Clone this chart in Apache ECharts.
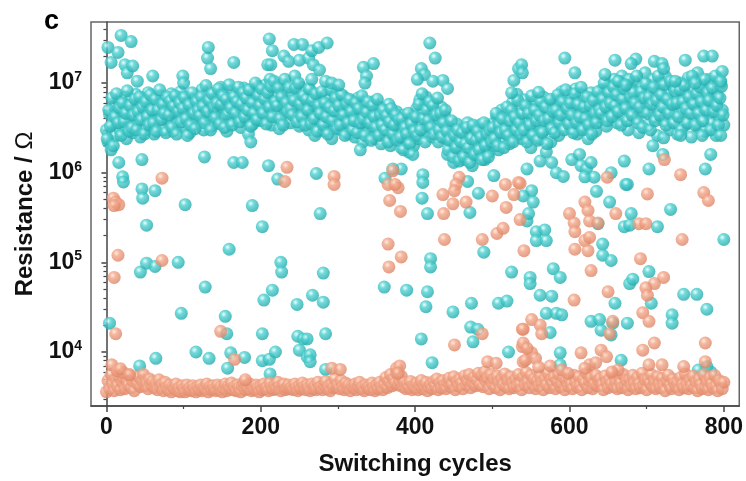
<!DOCTYPE html>
<html>
<head>
<meta charset="utf-8">
<script src="https://cdn.jsdelivr.net/npm/echarts@6/dist/echarts.min.js"></script>
<style>html,body{margin:0;padding:0;background:#fff}#chart{width:746px;height:481px}</style>
</head>
<body>
<div id="chart"></div>
<script>
// ====== data ======
var cycleStep = 2; // band arrays hold one value every 2 cycles
// high resistance state, main band, even cycles 0..800
var hrsBand = [
 3.0e6,2.2e6,4.5e6,1.8e6,3.5e6,5.5e6,2.6e6,4.0e6,6.2e6,2.9e6,
 4.8e6,3.2e6,7.0e6,2.4e6,5.0e6,3.8e6,6.5e6,2.8e6,4.2e6,7.5e6,
 3.5e6,5.2e6,2.5e6,6.8e6,4.0e6,3.0e6,5.8e6,7.8e6,3.6e6,4.6e6,
 6.0e6,2.7e6,4.4e6,5.5e6,3.3e6,7.2e6,4.9e6,3.0e6,6.4e6,4.1e6,
 5.6e6,3.8e6,7.6e6,2.9e6,4.7e6,6.1e6,3.4e6,5.0e6,8.0e6,4.3e6,
 3.2e6,5.9e6,4.5e6,7.0e6,2.8e6,5.3e6,3.9e6,6.6e6,4.8e6,3.5e6,
 6.2e6,4.1e6,8.5e6,3.0e6,5.6e6,7.3e6,4.4e6,6.0e6,3.3e6,5.1e6,
 7.8e6,4.6e6,6.4e6,3.6e6,9.0e6,5.4e6,4.0e6,7.0e6,2.9e6,6.0e6,
 4.8e6,8.2e6,3.8e6,5.7e6,7.4e6,4.3e6,6.8e6,3.2e6,5.2e6,8.8e6,
 4.0e6,6.5e6,2.7e6,5.0e6,7.9e6,3.5e6,6.1e6,4.4e6,9.2e6,5.5e6,
 3.8e6,7.0e6,5.0e6,9.5e6,4.2e6,6.3e6,1.1e7,3.4e6,5.8e6,8.0e6,
 4.5e6,7.2e6,3.1e6,6.0e6,9.8e6,5.2e6,4.0e6,8.4e6,6.6e6,3.6e6,
 7.5e6,5.4e6,1.2e7,4.3e6,6.8e6,3.3e6,9.0e6,5.0e6,7.8e6,4.1e6,
 6.2e6,3.0e6,8.2e6,4.7e6,5.6e6,2.6e6,7.0e6,3.8e6,6.0e6,4.4e6,
 5.2e6,2.9e6,7.4e6,3.6e6,6.5e6,4.8e6,2.4e6,5.8e6,3.3e6,7.8e6,
 4.2e6,6.0e6,3.0e6,5.0e6,7.0e6,3.7e6,4.6e6,2.7e6,6.4e6,3.9e6,
 5.4e6,2.5e6,4.4e6,6.8e6,3.2e6,4.9e6,2.2e6,5.7e6,3.6e6,4.1e6,
 2.8e6,5.0e6,3.3e6,6.2e6,2.4e6,4.5e6,3.0e6,5.4e6,2.1e6,3.8e6,
 4.6e6,2.6e6,3.5e6,5.8e6,2.0e6,4.0e6,3.1e6,2.4e6,4.8e6,2.8e6,
 3.6e6,1.9e6,2.9e6,4.4e6,2.2e6,3.3e6,1.7e6,2.6e6,3.9e6,2.0e6,
 3.0e6,5.2e6,2.4e6,6.5e6,3.6e6,4.6e6,2.8e6,7.0e6,3.3e6,5.6e6,
 4.0e6,2.5e6,6.0e6,3.4e6,4.8e6,2.2e6,3.8e6,5.4e6,2.9e6,4.3e6,
 2.4e6,1.6e6,3.2e6,1.9e6,2.7e6,1.3e6,2.1e6,3.5e6,1.5e6,2.5e6,
 1.8e6,2.9e6,1.4e6,2.3e6,3.6e6,1.7e6,2.6e6,1.2e6,2.0e6,3.1e6,
 1.6e6,2.4e6,3.4e6,1.9e6,2.8e6,1.4e6,2.2e6,3.3e6,1.7e6,2.6e6,
 2.0e6,3.6e6,2.5e6,4.2e6,1.8e6,3.0e6,5.0e6,2.3e6,3.8e6,2.7e6,
 4.5e6,2.1e6,3.4e6,6.0e6,2.8e6,4.0e6,7.5e6,3.2e6,5.4e6,2.4e6,
 4.4e6,6.5e6,2.6e6,3.6e6,5.2e6,1.9e6,4.0e6,2.9e6,6.2e6,3.3e6,
 5.0e6,2.4e6,4.2e6,7.0e6,3.0e6,1.7e6,4.8e6,3.6e6,2.2e6,5.8e6,
 3.4e6,6.6e6,4.5e6,2.6e6,5.4e6,8.0e6,3.8e6,6.0e6,4.2e6,7.2e6,
 5.0e6,3.1e6,6.8e6,4.0e6,8.6e6,2.7e6,5.6e6,3.6e6,7.4e6,4.6e6,
 3.2e6,6.2e6,2.4e6,4.8e6,7.8e6,3.8e6,5.4e6,2.9e6,6.6e6,4.2e6,
 5.8e6,8.4e6,4.0e6,6.8e6,3.3e6,9.6e6,5.2e6,7.5e6,4.4e6,1.1e7,
 6.2e6,3.6e6,8.0e6,5.0e6,1.2e7,4.2e6,7.0e6,9.4e6,3.0e6,6.0e6,
 8.8e6,5.4e6,1.05e7,4.0e6,7.2e6,2.8e6,6.4e6,9.0e6,4.8e6,1.3e7,
 5.6e6,3.4e6,8.2e6,6.6e6,1.1e7,4.2e6,7.6e6,2.6e6,5.0e6,9.8e6,
 6.8e6,3.8e6,1.2e7,5.2e6,8.0e6,3.0e6,6.2e6,9.2e6,4.4e6,7.0e6,
 2.7e6,5.8e6,1.0e7,4.6e6,7.8e6,3.4e6,6.4e6,1.15e7,5.0e6,2.5e6,
 8.6e6,4.0e6,6.0e6,1.3e7,3.2e6,7.4e6,5.4e6,9.6e6,2.9e6,6.8e6,
 4.6e6,1.1e7,3.6e6,8.0e6,5.8e6,2.6e6,7.2e6,4.2e6,1.0e7,5.0e6,
 3.4e6
];
// high resistance state, main band, odd cycles 1..799
var hrsBandOdd = [
 2.4e6,5.0e6,3.3e6,6.8e6,2.0e6,4.2e6,7.6e6,3.6e6,5.3e6,2.6e6,
 6.0e6,3.7e6,4.6e6,8.2e6,2.9e6,5.6e6,3.2e6,4.4e6,6.6e6,3.0e6,
 4.8e6,7.0e6,3.9e6,5.4e6,2.7e6,6.2e6,4.2e6,3.4e6,7.4e6,5.0e6,
 3.6e6,6.6e6,2.9e6,5.0e6,8.4e6,3.9e6,5.8e6,4.6e6,2.8e6,7.0e6,
 4.4e6,6.3e6,3.2e6,5.5e6,7.2e6,2.7e6,4.8e6,6.0e6,3.7e6,5.2e6,
 6.9e6,4.0e6,2.6e6,5.7e6,3.4e6,7.8e6,4.6e6,3.1e6,6.2e6,5.0e6,
 4.3e6,7.0e6,5.5e6,3.6e6,9.4e6,4.8e6,6.4e6,3.0e6,7.6e6,5.4e6,
 4.1e6,6.0e6,8.6e6,3.5e6,5.8e6,7.2e6,3.2e6,6.6e6,4.5e6,9.6e6,
 5.3e6,3.4e6,7.0e6,4.6e6,6.2e6,9.0e6,3.7e6,5.8e6,7.8e6,4.2e6,
 6.8e6,5.0e6,8.4e6,3.3e6,6.0e6,4.6e6,1.0e7,3.9e6,7.2e6,5.6e6,
 8.6e6,4.6e6,6.6e6,3.5e6,7.8e6,5.4e6,9.2e6,4.2e6,1.05e7,6.2e6,
 5.6e6,8.8e6,4.0e6,7.0e6,3.4e6,1.1e7,6.0e6,4.8e6,9.0e6,5.2e6,
 4.4e6,6.4e6,8.8e6,3.7e6,1.0e7,5.8e6,4.2e6,7.2e6,3.4e6,6.6e6,
 5.0e6,8.6e6,3.5e6,6.4e6,4.0e6,7.6e6,2.9e6,5.6e6,4.6e6,8.0e6,
 3.4e6,6.0e6,4.2e6,2.7e6,5.4e6,8.4e6,3.8e6,4.9e6,6.8e6,3.1e6,
 5.6e6,3.4e6,7.4e6,4.4e6,2.6e6,5.8e6,3.6e6,6.6e6,4.8e6,3.0e6,
 3.8e6,6.0e6,2.8e6,5.2e6,3.6e6,7.2e6,4.0e6,2.6e6,4.7e6,6.2e6,
 3.6e6,2.3e6,5.6e6,4.2e6,3.2e6,6.6e6,2.6e6,4.4e6,3.4e6,5.0e6,
 3.0e6,4.3e6,2.2e6,3.7e6,5.2e6,2.7e6,3.4e6,4.4e6,2.3e6,3.9e6,
 2.5e6,4.0e6,1.8e6,3.2e6,2.7e6,4.6e6,2.1e6,3.5e6,1.6e6,2.9e6,
 4.2e6,2.6e6,5.8e6,3.0e6,7.6e6,4.0e6,2.2e6,5.0e6,3.8e6,6.2e6,
 3.2e6,5.6e6,2.7e6,4.4e6,6.8e6,3.0e6,4.6e6,2.5e6,3.6e6,5.0e6,
 2.9e6,1.8e6,2.3e6,3.8e6,1.5e6,2.6e6,1.9e6,3.0e6,1.35e6,2.2e6,
 2.8e6,1.5e6,2.1e6,3.2e6,1.9e6,1.3e6,2.4e6,3.4e6,1.6e6,2.3e6,
 2.9e6,1.8e6,2.5e6,1.4e6,3.6e6,2.0e6,2.7e6,1.5e6,3.0e6,2.2e6,
 3.2e6,2.4e6,4.6e6,2.0e6,3.4e6,2.8e6,4.0e6,1.9e6,3.0e6,5.4e6,
 2.6e6,3.8e6,5.0e6,2.2e6,4.2e6,3.0e6,6.4e6,3.6e6,2.7e6,4.6e6,
 3.0e6,5.6e6,2.2e6,4.6e6,3.4e6,7.2e6,2.6e6,5.0e6,3.8e6,2.3e6,
 4.4e6,6.2e6,2.8e6,3.8e6,5.4e6,2.1e6,4.0e6,6.6e6,3.1e6,4.8e6,
 2.8e6,5.0e6,7.4e6,3.6e6,4.4e6,6.2e6,3.0e6,8.4e6,5.2e6,3.5e6,
 6.0e6,4.4e6,2.8e6,7.6e6,3.6e6,5.8e6,4.2e6,9.0e6,3.0e6,5.4e6,
 4.0e6,7.0e6,3.4e6,5.6e6,2.7e6,6.4e6,4.6e6,3.6e6,8.0e6,5.0e6,
 4.6e6,6.6e6,1.0e7,5.4e6,3.8e6,7.8e6,6.0e6,4.2e6,9.0e6,5.6e6,
 7.4e6,4.8e6,1.05e7,3.4e6,6.6e6,8.6e6,5.2e6,3.8e6,1.1e7,7.0e6,
 4.4e6,7.8e6,6.0e6,1.2e7,3.6e6,5.4e6,8.0e6,3.2e6,6.8e6,9.8e6,
 4.6e6,7.0e6,3.0e6,5.8e6,9.0e6,3.8e6,6.4e6,1.2e7,4.4e6,7.4e6,
 5.4e6,9.6e6,3.4e6,6.6e6,4.6e6,1.05e7,5.8e6,3.6e6,8.2e6,6.0e6,
 4.2e6,8.4e6,3.0e6,6.2e6,9.4e6,5.2e6,3.6e6,7.0e6,4.6e6,1.2e7,
 5.8e6,3.4e6,7.6e6,4.6e6,9.0e6,6.2e6,3.8e6,1.1e7,5.0e6,7.8e6,
 6.4e6,3.0e6,8.8e6,4.8e6,1.2e7,5.6e6,3.4e6,6.8e6,9.2e6,4.4e6
];
// high resistance state, points above the band [cycle, ohm]
var hrsHigh = [
 [2,2.5e7],[6,1.7e7],[15,2.2e7],[19,3.4e7],[24,1.6e7],[27,1.3e7],[32,2.9e7],[34,1.55e7],[40,1.05e7],[60,1.2e7],
 [99,1.2e7],[100,1.0e7],[131,1.9e7],[132,2.5e7],[135,1.45e7],[165,1.7e7],[209,1.6e7],[211,3.1e7],[213,1.6e7],[215,2.3e7],
 [230,2.0e7],[236,1.75e7],[243,2.7e7],[250,1.8e7],[254,2.7e7],[262,1.9e7],[266,2.3e7],[268,1.6e7],[275,2.5e7],[276,1.4e7],
 [286,2.8e7],[266,1.1e7],[284,1.05e7],[292,1.0e7],[301,9.5e6],[333,1.5e7],[346,1.65e7],[337,1.2e7],[335,1.0e7],
 [419,2.8e7],[426,1.9e7],[408,1.45e7],[412,1.25e7],[403,1.1e7],[423,1.05e7],[436,1.07e7],[442,8.7e6],
 [534,1.45e7],[528,1.07e7],[525,7.8e6],[538,1.6e7],[539,1.3e7],[594,1.9e7],[607,1.3e7],[646,1.25e7],[659,1.8e7],
 [560,7.9e6],[663,1.05e7],[673,9.5e6],[774,2.0e7],[785,2.0e7],[750,1.8e7],[710,1.75e7],[720,1.65e7],[722,1.45e7],
 [686,1.85e7],[680,1.65e7],[798,1.35e7],[796,1.05e7],[737,1.05e7],[763,1.0e7]
];
// high resistance state, points below the band
var hrsLow = [
 [16,1.3e6],[46,1.4e6],[21,9e5],[22,7.9e5],[46,6.6e5],[47,5.2e5],[63,6.3e5],[102,4.4e5],[52,2.6e5],[44,7.8e4],
 [52,9.8e4],[63,9e4],[93,1.0e5],[97,2.7e4],[4,2.1e4],[116,1.0e4],[43,7e3],[64,8.5e3],
 [127,1.5e6],[165,1.3e6],[176,1.3e6],[210,1.2e6],[187,2.2e6],[222,8.5e5],[189,4.3e5],[202,2.5e5],[159,1.4e5],[226,1.0e5],
 [227,7.8e4],[128,5.3e4],[215,4.9e4],[204,3.8e4],[247,3.4e4],[154,2.5e4],[156,1.6e4],[202,1.6e4],[248,1.5e4],[255,1.4e4],
 [250,1.05e4],[133,8.5e3],[161,9.8e3],[179,8.7e3],[157,6.6e3],[202,8e3],[211,8.3e3],[219,1.0e4],[212,5.7e3],[260,8.9e3],
 [329,1.8e6],[272,9.8e5],[277,3.5e5],[361,8.7e5],[382,1.1e6],[371,1.1e6],[281,7.6e4],[267,4.3e4],[281,3.6e4],[360,5.3e4],
 [389,4.9e4],[284,1.6e4],[260,1.4e4],[264,9.3e3],[264,7.8e3],[284,6.4e3],
 [410,9.5e5],[410,7.8e5],[409,5.2e5],[416,3.5e5],[468,8e5],[471,3.6e5],[482,5.9e5],[502,9.3e5],[489,1.3e5],[420,1.1e5],
 [420,8.9e4],[525,7.8e4],[416,4.7e4],[414,3.2e4],[449,2.8e4],[473,3.5e4],[508,3.5e4],[519,3.7e4],[408,1.4e4],[472,1.9e4],
 [481,1.8e4],[475,1.3e4],[521,1.0e4],[422,7.6e3],
 [545,1.1e6],[562,1.35e6],[577,1.3e6],[583,1.0e6],[592,9.1e5],[603,1.4e6],[613,1.6e6],[615,1.2e6],[622,1.1e6],[628,1.3e6],
 [620,9e5],[632,8.9e5],[654,1.0e6],[635,6.2e5],[671,1.35e6],[673,7.4e5],[551,6.3e5],[540,5.5e5],[553,4.7e5],[545,2.9e5],
 [547,3.5e5],[557,2.2e5],[568,2.3e5],[557,1.75e5],[570,1.75e5],[652,4.7e5],[637,2.7e5],[643,1.6e5],[643,1.2e5],[654,1.05e5],
 [671,2.5e5],[579,8.5e4],[588,6.8e4],[549,6.8e4],[549,5.8e4],[562,4.3e4],[577,4.2e4],[570,2.7e4],[583,2.7e4],[590,2.6e4],
 [575,1.65e4],[659,3.5e4],[678,5.8e4],[628,2.2e4],[639,2.3e4],[641,1.75e4],[654,1.55e4],[656,2.1e4],[588,9.8e3],[588,7.2e3],
 [667,8.1e3],
 [708,2.0e6],[722,2.45e6],[744,2.6e6],[772,2.6e6],[796,2.6e6],[783,1.6e6],[721,1.6e6],[703,1.1e6],[776,1.1e6],[675,7.4e5],
 [731,3.9e5],[680,3.5e5],[678,2.6e5],[714,2.5e5],[800,1.8e5],[682,6.5e4],[703,7.9e4],[706,3.5e4],[748,4.4e4],[765,4.4e4],
 [778,3.0e4],[733,2.6e4],[733,2.1e4],[675,2.1e4],[767,6.3e3],[783,6.0e3],[778,6.9e3]
];
// low resistance state, main band, even cycles 0..800
var lrsBand = [
 3.6e3,4.8e3,3.9e3,5.6e3,4.4e3,3.7e3,5.0e3,4.2e3,5.4e3,3.8e3,
 4.6e3,5.2e3,3.9e3,4.9e3,4.3e3,5.5e3,4.0e3,4.7e3,3.7e3,5.1e3,
 4.4e3,5.3e3,4.1e3,4.8e3,5.6e3,4.2e3,4.6e3,3.9e3,5.0e3,4.3e3,
 4.7e3,4.0e3,4.5e3,3.8e3,4.9e3,4.1e3,4.4e3,3.7e3,4.6e3,4.0e3,
 3.8e3,4.3e3,3.6e3,4.1e3,3.9e3,4.4e3,3.7e3,4.0e3,3.6e3,4.2e3,
 3.9e3,3.6e3,4.3e3,3.8e3,4.0e3,3.7e3,4.2e3,3.9e3,3.6e3,4.1e3,
 3.8e3,4.3e3,3.7e3,4.0e3,3.9e3,4.4e3,3.6e3,4.1e3,3.8e3,4.2e3,
 3.9e3,3.7e3,4.3e3,3.8e3,4.1e3,3.6e3,4.0e3,4.4e3,3.7e3,4.2e3,
 3.9e3,4.5e3,3.8e3,4.1e3,3.7e3,4.3e3,4.0e3,3.6e3,4.2e3,4.6e3,
 3.8e3,4.2e3,3.9e3,4.4e3,3.7e3,4.1e3,3.8e3,4.3e3,4.0e3,3.6e3,
 4.2e3,3.8e3,4.4e3,3.9e3,4.1e3,3.7e3,4.5e3,4.0e3,3.8e3,4.3e3,
 3.9e3,4.6e3,4.1e3,3.7e3,4.2e3,4.4e3,3.8e3,4.0e3,4.3e3,3.9e3,
 4.1e3,3.8e3,4.4e3,4.0e3,3.7e3,4.2e3,3.9e3,4.5e3,4.1e3,3.8e3,
 4.3e3,4.0e3,3.7e3,4.4e3,3.9e3,4.2e3,3.8e3,4.6e3,4.0e3,4.1e3,
 3.8e3,4.3e3,4.7e3,3.9e3,4.2e3,3.7e3,4.4e3,4.0e3,5.0e3,4.1e3,
 4.3e3,3.9e3,4.8e3,4.1e3,3.8e3,4.5e3,4.0e3,4.3e3,3.7e3,4.2e3,
 4.0e3,4.4e3,3.8e3,4.2e3,4.6e3,3.9e3,4.1e3,3.7e3,4.3e3,4.0e3,
 4.2e3,3.8e3,4.5e3,4.0e3,3.7e3,4.3e3,3.9e3,4.6e3,4.1e3,3.8e3,
 4.4e3,5.2e3,4.0e3,4.7e3,5.6e3,4.2e3,5.0e3,4.5e3,5.8e3,4.3e3,
 4.8e3,5.4e3,4.1e3,4.6e3,3.9e3,4.4e3,4.0e3,4.7e3,3.8e3,4.2e3,
 4.0e3,4.5e3,3.8e3,4.3e3,4.8e3,3.9e3,4.2e3,4.6e3,3.7e3,4.1e3,
 4.4e3,3.9e3,4.7e3,4.2e3,5.0e3,3.8e3,4.5e3,4.0e3,4.8e3,4.3e3,
 3.9e3,4.6e3,5.1e3,4.1e3,4.4e3,5.3e3,3.8e3,4.7e3,4.2e3,5.0e3,
 4.5e3,3.9e3,5.4e3,4.3e3,4.8e3,5.6e3,4.0e3,4.6e3,5.2e3,4.2e3,
 4.9e3,5.8e3,4.3e3,5.5e3,4.1e3,6.0e3,4.7e3,5.2e3,3.9e3,5.6e3,
 4.4e3,5.0e3,4.0e3,5.4e3,4.6e3,3.8e3,5.1e3,4.3e3,5.7e3,4.1e3,
 4.8e3,3.9e3,5.3e3,4.5e3,4.0e3,5.0e3,4.2e3,5.6e3,4.4e3,3.8e3,
 5.2e3,4.3e3,5.9e3,4.7e3,4.0e3,5.5e3,4.4e3,5.0e3,3.9e3,4.8e3,
 4.2e3,5.4e3,4.6e3,3.8e3,5.1e3,4.3e3,5.8e3,4.0e3,4.9e3,4.4e3,
 5.3e3,3.9e3,4.7e3,5.6e3,4.1e3,4.5e3,5.2e3,3.8e3,4.8e3,4.2e3,
 5.0e3,4.4e3,3.9e3,5.5e3,4.6e3,4.1e3,5.3e3,4.3e3,3.8e3,4.9e3,
 4.5e3,5.8e3,4.0e3,4.7e3,5.2e3,3.9e3,4.4e3,5.5e3,4.2e3,4.8e3,
 5.1e3,4.3e3,3.8e3,5.4e3,4.6e3,4.0e3,5.0e3,4.4e3,5.7e3,4.1e3,
 4.7e3,3.9e3,5.3e3,4.5e3,4.0e3,5.6e3,4.3e3,4.8e3,3.8e3,5.0e3,
 4.2e3,5.5e3,4.6e3,3.9e3,5.2e3,4.4e3,4.0e3,5.8e3,4.3e3,4.9e3,
 3.8e3,5.0e3,4.5e3,5.6e3,4.1e3,4.7e3,3.9e3,5.3e3,4.4e3,4.0e3,
 5.1e3,4.3e3,3.7e3,4.8e3,5.5e3,4.2e3,3.9e3,5.0e3,4.5e3,4.1e3,
 4.6e3,3.8e3,5.2e3,4.3e3,4.0e3,5.7e3,4.4e3,3.9e3,4.9e3,4.2e3,
 5.4e3,4.0e3,4.6e3,3.7e3,5.0e3,4.3e3,3.9e3,5.6e3,4.1e3,4.7e3,
 3.8e3,5.2e3,4.4e3,4.0e3,5.5e3,4.2e3,3.7e3,4.8e3,4.5e3,3.9e3,
 4.6e3
];
// low resistance state, points above the band
var lrsHigh = [
 [72,8.7e5],[9,5.2e5],[12,4.7e5],[16,4.4e5],[10,4.3e5],[15,1.2e5],[72,1.05e5],[10,6.8e4],[12,1.6e4],[7,7.2e3],
 [14,6.2e3],[22,5.9e3],[18,6.5e3],[30,5.6e3],
 [234,1.15e6],[231,8e5],[148,1.7e4],[166,8.3e3],[180,4.9e3],
 [295,9.1e5],[295,7.4e5],[371,1.05e6],[365,7.4e5],[378,6.8e5],[374,7.4e5],[367,4.9e5],[381,3.7e5],[365,1.6e5],[382,1.15e5],
 [366,8.9e4],[292,6.6e3],[303,6.4e3],[376,6.6e3],[380,7.0e3],[378,5.8e3],
 [457,8.9e5],[453,7.4e5],[451,6.3e5],[436,5.7e5],[449,4.5e5],[437,3.5e5],[466,4.7e5],[438,1.8e5],[487,1.8e5],[506,2.1e5],
 [514,2.4e5],[500,5.5e5],[517,7.4e5],[528,5.7e5],[518,4.1e5],[534,7.8e5],[487,1.6e4],[451,1.2e4],[494,7.8e3],[505,7.5e3],
 [539,1.8e4],[539,1.15e4],[540,7.8e3],
 [649,8.9e5],[536,7.6e5],[620,4.7e5],[624,3.8e5],[626,2.9e5],[637,2.75e5],[600,3.5e5],[606,2.75e5],[607,2.2e5],[660,3.5e5],
 [536,3.0e5],[620,1.75e5],[626,1.9e5],[624,1.35e5],[607,1.4e5],[541,1.35e5],[628,8.1e4],[606,3.8e4],[650,4.7e4],[551,2.3e4],
 [562,2.0e4],[564,1.6e4],[540,1.8e4],[656,2.2e4],[652,1.6e4],[540,1.26e4],[551,9.8e3],[543,8.1e3],[615,9.8e3],[641,1.05e4],
 [648,8.9e3],[626,7.2e3],[663,6.3e3],[545,1.1e4],[556,8.5e3],[560,6.8e3],[575,7.0e3],[590,6.3e3],[598,5.8e3],[620,6.6e3],
 [634,7.6e3],[655,6.0e3],
 [723,1.4e6],[744,9.5e5],[701,5.8e5],[774,6.0e5],[780,4.9e5],[690,2.7e5],[699,2.7e5],[746,1.8e5],[692,1.1e5],[722,6.8e4],
 [710,5.8e4],[699,5.2e4],[701,4.3e4],[695,2.75e4],[703,2.2e4],[710,1.26e4],[695,1.05e4],[776,1.26e4],[776,7.8e3],[703,7.2e3],
 [720,7.2e3],[748,6.9e3]
];
// axis ticks
var xMajor = [0,200,400,600,800];
var xMinor = [100,300,500,700];
var yMajor = [1e4,1e5,1e6,1e7];
var yMinor = [3e3,4e3,5e3,6e3,7e3,8e3,9e3,2e4,3e4,4e4,5e4,6e4,7e4,8e4,9e4,
              2e5,3e5,4e5,5e5,6e5,7e5,8e5,9e5,2e6,3e6,4e6,5e6,6e6,7e6,8e6,9e6,2e7,3e7,4e7];

// ====== chart ======
var FONT = 'Arial, "Liberation Sans", sans-serif';
var chart = echarts.init(document.getElementById('chart'));

function bandData(arr, start) {
  return arr.map(function (v, i) { return [start + i * cycleStep, v]; });
}
function ball(c0, c1, c2) {
  return {
    type: 'radial', x: 0.38, y: 0.34, r: 0.68,
    colorStops: [{offset: 0, color: c0}, {offset: 0.35, color: c1}, {offset: 1, color: c2}]
  };
}
var yRange = {type: 'log', logBase: 10, min: 2500, max: 4.8e7, gridIndex: 0, position: 'left'};
var xRange = {type: 'value', min: -20, max: 820, gridIndex: 0, position: 'bottom'};

var option = {
  animation: false,
  backgroundColor: '#fff',
  title: {
    text: 'c', left: 39, top: 3,
    textStyle: {fontFamily: FONT, fontSize: 27, fontWeight: 'bold', color: '#000'}
  },
  grid: {
    left: 91, top: 22, right: 2, bottom: 73,
    show: true, borderColor: '#666', borderWidth: 1.5, backgroundColor: 'transparent'
  },
  xAxis: [
    Object.assign({}, xRange, {
      name: 'Switching cycles', nameLocation: 'middle', nameGap: 46,
      nameTextStyle: {fontFamily: FONT, fontSize: 24, fontWeight: 'bold', color: '#111'},
      axisLine: {show: true, lineStyle: {color: '#444', width: 1.5}},
      axisTick: {show: true, length: 6, customValues: xMajor, lineStyle: {color: '#444', width: 1.5}},
      axisLabel: {customValues: xMajor, margin: 10, fontFamily: FONT, fontSize: 23, fontWeight: 'bold', color: '#111'},
      splitLine: {show: false}
    }),
    Object.assign({}, xRange, {
      axisLine: {show: false},
      axisTick: {show: true, length: 3, customValues: xMinor, lineStyle: {color: '#444', width: 1.2}},
      axisLabel: {show: false},
      splitLine: {show: false}
    })
  ],
  yAxis: [
    Object.assign({}, yRange, {
      name: 'Resistance / {o|Ω}', nameLocation: 'middle', nameGap: 47,
      nameTextStyle: {
        fontFamily: FONT, fontSize: 24, fontWeight: 'bold', color: '#111',
        rich: {o: {fontFamily: FONT, fontSize: 24, fontWeight: 'normal', color: '#111'}}
      },
      axisLine: {show: true, lineStyle: {color: '#444', width: 1.5}},
      axisTick: {show: true, length: 5, customValues: yMajor, lineStyle: {color: '#444', width: 1.5}},
      axisLabel: {
        customValues: yMajor, margin: 9,
        formatter: function (v) { return '{b|10}{s|' + Math.round(Math.log10(v)) + '}'; },
        rich: {
          b: {fontFamily: FONT, fontSize: 23, fontWeight: 'bold', color: '#111', lineHeight: 26},
          s: {fontFamily: FONT, fontSize: 14, fontWeight: 'bold', color: '#111', lineHeight: 14, verticalAlign: 'top'}
        }
      },
      splitLine: {show: false}
    }),
    Object.assign({}, yRange, {
      axisLine: {show: false},
      axisTick: {show: true, length: 3, customValues: yMinor, lineStyle: {color: '#444', width: 1.2}},
      axisLabel: {show: false},
      splitLine: {show: false}
    })
  ],
  series: [
    {
      name: 'HRS', type: 'scatter', xAxisIndex: 0, yAxisIndex: 0,
      symbolSize: 13,
      data: bandData(hrsBand, 0).concat(bandData(hrsBandOdd, 1), hrsHigh, hrsLow),
      itemStyle: {color: ball('#E6FFFF', '#4FD0D0', '#22A9AA')}
    },
    {
      name: 'LRS', type: 'scatter', xAxisIndex: 0, yAxisIndex: 0,
      symbolSize: 13,
      data: bandData(lrsBand, 0).concat(lrsHigh),
      itemStyle: {color: ball('#FFE6D8', '#F2A587', '#DC8466')}
    }
  ]
};
chart.setOption(option);
</script>
</body>
</html>
